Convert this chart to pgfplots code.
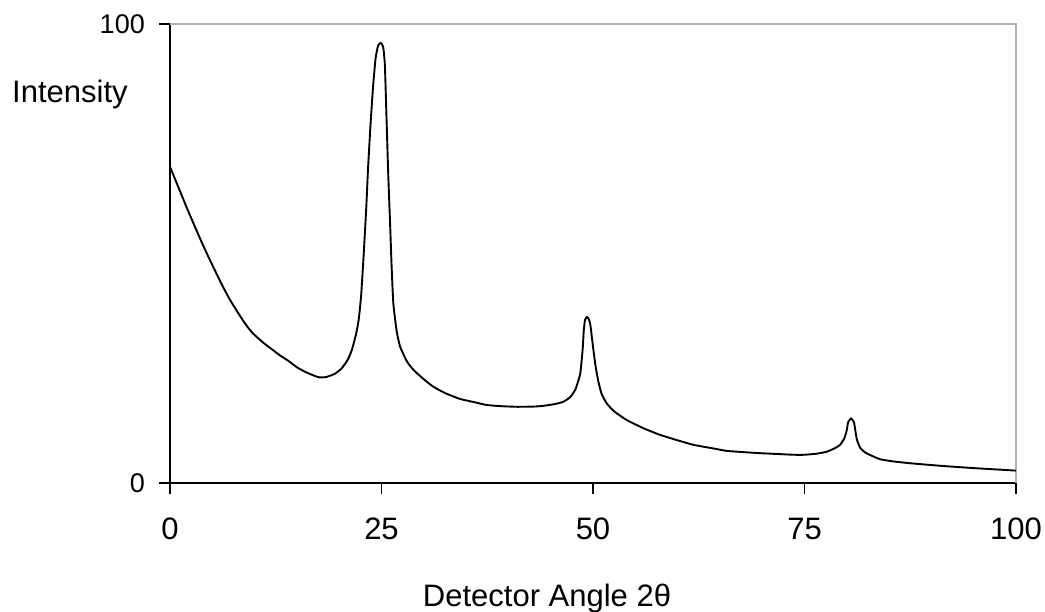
\documentclass[border=0pt]{standalone}
\usepackage{fontspec}
\setmainfont{Liberation Sans}
\usepackage{pgfplots}
\pgfplotsset{compat=1.18}

\pgfplotstableread{
x y
0 68.9
1 64.4
2 59.9
3 55.6
4 51.4
5 47.5
6 43.7
7 40.2
8 37.2
9 34.4
9.8 32.6
11 30.6
12 29.2
13 27.8
14 26.6
15 25.2
16 24.2
17 23.4
17.7 23.0
18.5 23.1
19.5 23.8
20.3 25.0
21.0 26.8
21.5 29.0
22.0 32.5
22.3 35.5
22.6 41
22.9 50.0
23.2 60
23.4 68.2
23.7 78
24.0 86.3
24.3 92.5
24.6 95.3
24.9 95.9
25.2 95
25.4 91
25.6 79.1
25.8 67
26.0 57.3
26.2 47
26.4 39.1
26.8 33
27.2 29.7
28.0 26.5
28.8 24.6
30.0 22.6
31.1 21.0
32.5 19.6
34.3 18.3
36.0 17.6
37.4 17.0
39 16.75
41.0 16.6
43 16.65
44.1 16.8
45.5 17.2
46.5 17.7
47.3 18.7
47.9 20.3
48.3 22.5
48.5 23.9
48.7 27.5
48.8 29.7
48.9 33
49.05 35.5
49.3 36.2
49.55 35.5
49.7 34.3
49.85 32
50.0 29.7
50.3 25.5
50.6 22.4
51.0 19.5
51.6 17.4
52.5 15.6
54.0 13.7
56 11.9
57.9 10.5
60 9.3
61.9 8.3
64 7.6
65.8 7.0
68 6.7
69.7 6.5
72 6.3
73.7 6.15
75 6.15
76.5 6.4
77.6 6.8
78.5 7.5
79.2 8.3
79.7 9.7
80.0 11.5
80.15 13.2
80.5 14.1
80.85 13.2
81.0 11.5
81.2 9.4
81.6 7.6
82.3 6.5
83.9 5.2
85.5 4.7
87.5 4.3
91.4 3.7
95.4 3.2
100 2.7
}\xrd

\begin{document}
\begin{tikzpicture}[x=1pt,y=1pt]
\useasboundingbox (0,0) rectangle (1045,612);
\begin{axis}[
    at={(170pt,129pt)}, anchor=south west,
    scale only axis,
    width=846pt, height=459pt,
    xmin=0, xmax=100, ymin=0, ymax=100,
    axis lines=left,
    axis line style={-, line width=1.8pt, black},
    xtick={0,25,50,75,100},
    ytick={0,100},
    tick align=outside,
    major tick length=11pt,
    tick style={line width=1.8pt, black},
    /pgf/number format/assume math mode=true,
    xticklabel style={font=\fontsize{31}{36}\selectfont, inner sep=0pt, yshift=-24pt},
    yticklabel style={font=\fontsize{27}{32}\selectfont, inner sep=0pt, xshift=-14pt},
    clip=false,
]
\draw[line width=1.8pt, gray!60] (rel axis cs:0,1) -- (rel axis cs:1,1) -- (rel axis cs:1,0);
\addplot[black, line width=1.9pt, line join=round, smooth, tension=0.3, no marks] table {\xrd};
\end{axis}
\node[anchor=base west, inner sep=0pt, font=\fontsize{31}{36}\selectfont] at (12,509) {Intensity};
\node[anchor=base, inner sep=0pt, font=\fontsize{31}{36}\selectfont] at (547,5.3) {Detector Angle 2θ};
\end{tikzpicture}
\end{document}
